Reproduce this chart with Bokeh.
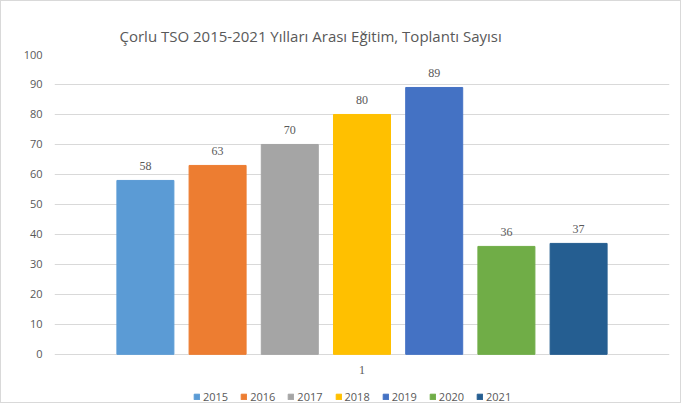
from bokeh.plotting import figure
from bokeh.models import ColumnDataSource, FactorRange, Range1d, FixedTicker, Legend
from bokeh.transform import dodge
from bokeh.embed import file_html
from bokeh.resources import INLINE

title_text = "Çorlu TSO 2015-2021 Yılları Arası Eğitim, Toplantı Sayısı"
categories = ["1"]
years = ["2015", "2016", "2017", "2018", "2019", "2020", "2021"]
values = [58, 63, 70, 80, 89, 36, 37]
colors = ["#5B9BD5", "#ED7D31", "#A5A5A5", "#FFC000", "#4472C4", "#70AD47", "#255E91"]
y_ticks = [0, 10, 20, 30, 40, 50, 60, 70, 80, 90, 100]

FONT = "Open Sans"
TXT = "#595959"

# frame spans 0..100 over 299 px; extra room below 0 holds category label and legend
px_per_unit = 2.99
below_px = 50
p = figure(width=681, height=403, output_backend="svg", toolbar_location=None,
           x_range=FactorRange(factors=categories, range_padding=0),
           y_range=Range1d(-below_px / px_per_unit, 100),
           x_axis_location=None,
           min_border_left=53, min_border_right=13, min_border_top=53, min_border_bottom=0)
p.styles = {"border": "1px solid #d9d9d9"}
p.outline_line_color = None
p.background_fill_color = "white"
p.border_fill_color = "white"

p.title.text = title_text
p.title.text_font = FONT
p.title.text_font_size = "15px"
p.title.text_font_style = "normal"
p.title.text_color = TXT
p.title.align = "left"
p.title.offset = 65
p.title.standoff = 18

p.yaxis.ticker = FixedTicker(ticks=y_ticks)
p.yaxis.axis_line_color = None
p.yaxis.major_tick_line_color = None
p.yaxis.minor_tick_line_color = None
p.yaxis.major_tick_out = 0
p.yaxis.major_label_standoff = 12
p.yaxis.major_label_text_font = FONT
p.yaxis.major_label_text_font_size = "11px"
p.yaxis.major_label_text_color = TXT

p.xgrid.grid_line_color = None
p.ygrid.grid_line_color = "#d9d9d9"
p.ygrid.grid_line_width = 1

period = 0.1174
bar_w = 0.0927
items = []
n = len(years)
for i, (yr, v, c) in enumerate(zip(years, values, colors)):
    off = (i - (n - 1) / 2) * period
    src = ColumnDataSource(dict(x=categories, top=[v], label=[str(v)]))
    r = p.vbar(x=dodge("x", off, range=p.x_range), top="top", bottom=0, width=bar_w,
               fill_color=c, line_color=c, source=src)
    p.text(x=dodge("x", off, range=p.x_range), y="top", text="label", source=src,
           text_align="center", text_baseline="middle", y_offset=-14,
           text_font_size="12px", text_color=TXT, text_font=FONT)
    items.append((yr, [r]))

# category label under the bars
cat_src = ColumnDataSource(dict(x=categories, y=[0] * len(categories), label=categories))
p.text(x="x", y="y", text="label", source=cat_src, text_align="center",
       text_baseline="middle", y_offset=16, text_font_size="12px",
       text_color=TXT, text_font=FONT)

legend = Legend(items=items, orientation="horizontal", location=(139, 0),
                glyph_width=7, glyph_height=7, label_standoff=3, spacing=12,
                label_height=12, label_width=20,
                padding=0, margin=0, border_line_color=None, background_fill_alpha=0,
                label_text_font=FONT, label_text_font_size="11px", label_text_color=TXT)
p.add_layout(legend, "center")

open("out.html", "w").write(file_html(p, INLINE))
